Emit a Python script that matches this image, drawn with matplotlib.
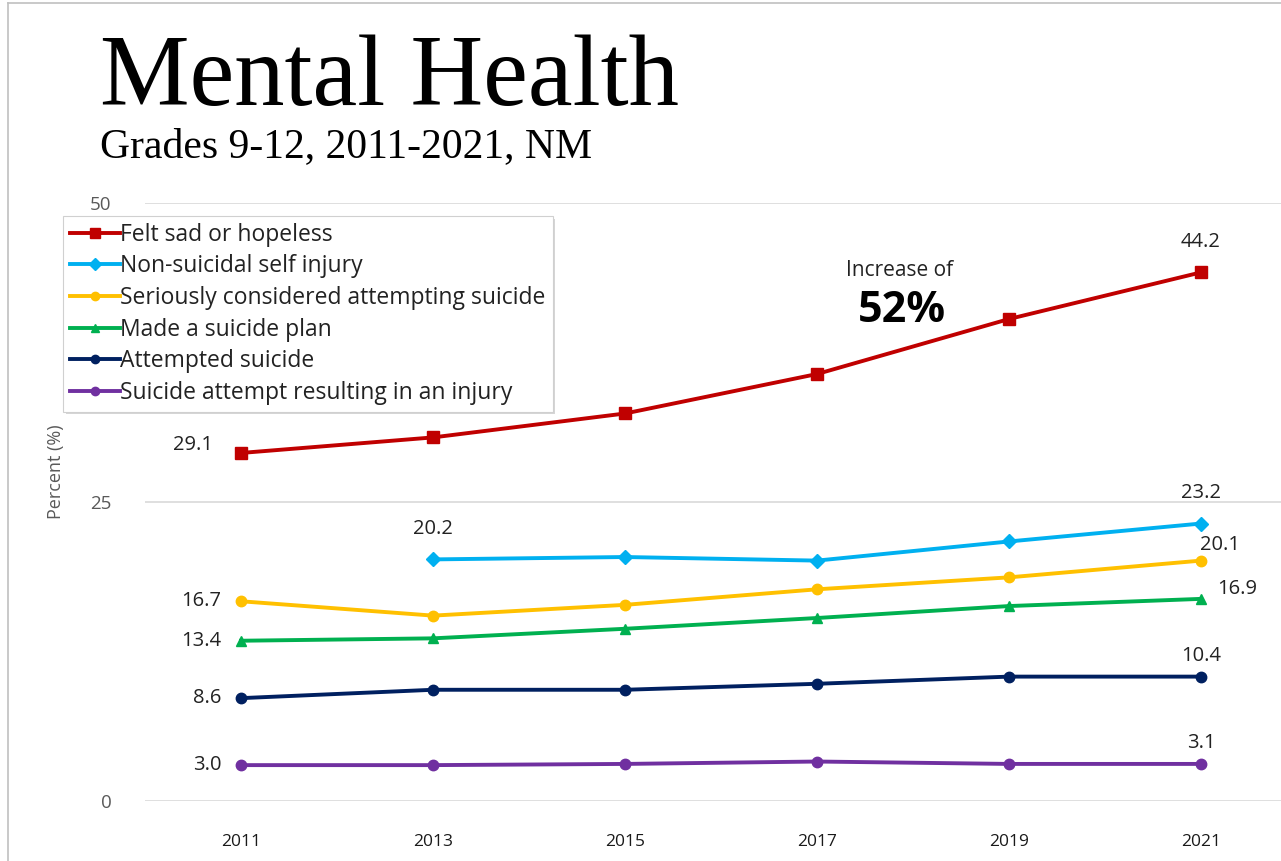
import numpy as np
import matplotlib
matplotlib.use("Agg")
import matplotlib.pyplot as plt
from matplotlib.lines import Line2D
import matplotlib.patheffects as pe

# datos
years = [2011, 2013, 2015, 2017, 2019, 2021]
sad = [29.1, 30.4, 32.4, 35.7, 40.3, 44.2]
self_injury = [np.nan, 20.2, 20.4, 20.1, 21.7, 23.2]
considered = [16.7, 15.5, 16.4, 17.7, 18.7, 20.1]
plan = [13.4, 13.6, 14.4, 15.3, 16.3, 16.9]
attempted = [8.6, 9.3, 9.3, 9.8, 10.4, 10.4]
injury = [3.0, 3.0, 3.1, 3.3, 3.1, 3.1]

names = ["Felt sad or hopeless", "Non-suicidal self injury",
         "Seriously considered attempting suicide", "Made a suicide plan",
         "Attempted suicide", "Suicide attempt resulting in an injury"]
series = [sad, self_injury, considered, plan, attempted, injury]
colors = ["#C00000", "#00B0F0", "#FFC000", "#00B050", "#002060", "#7030A0"]
markers = ["s", "D", "o", "^", "o", "o"]
msizes = [8.5, 7.5, 7.5, 7.5, 7.5, 7.5]

plt.rcParams['font.family'] = ['Open Sans', 'DejaVu Sans']

W, H = 1281, 861
fig = plt.figure(figsize=(W / 100, H / 100), dpi=100)

# marco exterior
fig.add_artist(Line2D([8 / W, 8 / W], [0, 1 - 3 / H], color="#c0c0c0", lw=1.2))
fig.add_artist(Line2D([8 / W, 1], [1 - 3 / H, 1 - 3 / H], color="#c0c0c0", lw=1.2))

# titulos
fig.text(100 / W, 1 - 105 / H, "Mental Health", family="Liberation Serif",
         fontsize=72.5, color="black", ha="left", va="baseline")
fig.text(100 / W, 1 - 157 / H, "Grades 9-12, 2011-2021, NM", family="Liberation Serif",
         fontsize=30, color="black", ha="left", va="baseline")

# ejes
left_px, right_px = 145, W
ax = fig.add_axes([left_px / W, (H - 801) / H, (right_px - left_px) / W, 598 / H])
ax.set_xlim(2010, 2021 + (right_px - 1201) / 96)
ax.set_ylim(0, 50)
for s in ax.spines.values():
    s.set_visible(False)
ax.set_yticks([0, 25, 50])
ax.set_xticks(years)
ax.grid(axis="y", color="#d9d9d9", lw=1.2)
ax.set_axisbelow(True)
ax.tick_params(length=0)
ax.tick_params(axis="y", pad=24, labelsize=13.5, labelcolor="#595959")
ax.tick_params(axis="x", pad=24, labelsize=12.5, labelcolor="#1a1a1a")
ax.set_ylabel("Percent (%)", fontsize=13, color="#595959")
ax.yaxis.set_label_coords(-80 / (right_px - left_px), 0.55)

handles = []
for name, vals, c, m, ms in zip(names, series, colors, markers, msizes):
    h, = ax.plot(years, vals, color=c, lw=2.8, marker=m, markersize=ms,
                 label=name, clip_on=False)
    handles.append(h)

# etiquetas de datos
lab = dict(fontsize=14.5, color="#222222")
ax.annotate("29.1", (2011, sad[0]), xytext=(-20, 6), textcoords="offset points", ha="right", va="center", **lab)
ax.annotate("16.7", (2011, considered[0]), xytext=(-14, 0), textcoords="offset points", ha="right", va="center", **lab)
ax.annotate("13.4", (2011, plan[0]), xytext=(-14, 0), textcoords="offset points", ha="right", va="center", **lab)
ax.annotate("8.6", (2011, attempted[0]), xytext=(-14, 0), textcoords="offset points", ha="right", va="center", **lab)
ax.annotate("3.0", (2011, injury[0]), xytext=(-14, 0), textcoords="offset points", ha="right", va="center", **lab)
ax.annotate("20.2", (2013, self_injury[1]), xytext=(0, 22), textcoords="offset points", ha="center", va="center", **lab)
ax.annotate("44.2", (2021, sad[5]), xytext=(0, 22), textcoords="offset points", ha="center", va="center", **lab)
ax.annotate("23.2", (2021, self_injury[5]), xytext=(0, 22), textcoords="offset points", ha="center", va="center", **lab)
ax.annotate("20.1", (2021, considered[5]), xytext=(14, 11), textcoords="offset points", ha="center", va="center", **lab)
ax.annotate("16.9", (2021, plan[5]), xytext=(12, 7), textcoords="offset points", ha="left", va="center", **lab)
ax.annotate("10.4", (2021, attempted[5]), xytext=(0, 15), textcoords="offset points", ha="center", va="center", **lab)
ax.annotate("3.1", (2021, injury[5]), xytext=(0, 15), textcoords="offset points", ha="center", va="center", **lab)

# anotacion
fig.text(900 / W, 1 - 270 / H, "Increase of", fontsize=15, color="#222222", ha="center", va="center")
fig.text(902 / W, 1 - 311 / H, "52%", fontsize=31, fontweight="bold", color="black", ha="center", va="center")

# leyenda
leg = ax.legend(handles=handles, loc="upper left", bbox_to_anchor=(63 / W, 1 - 216 / H),
                bbox_transform=fig.transFigure, fontsize=16.5, frameon=True, fancybox=False,
                shadow=False, handlelength=2.2, handletextpad=0.0, borderpad=0.3,
                labelspacing=0.33, borderaxespad=0, markerscale=0.8)
fr = leg.get_frame()
fr.set_facecolor("white")
fr.set_alpha(1)
fr.set_edgecolor("#d0d0d0")
fr.set_linewidth(0.8)
fr.set_path_effects([pe.SimplePatchShadow(offset=(2, -2), shadow_rgbFace="#999999", alpha=0.4), pe.Normal()])
for t in leg.get_texts():
    t.set_color("#222222")

fig.savefig("out.png", dpi=100)
